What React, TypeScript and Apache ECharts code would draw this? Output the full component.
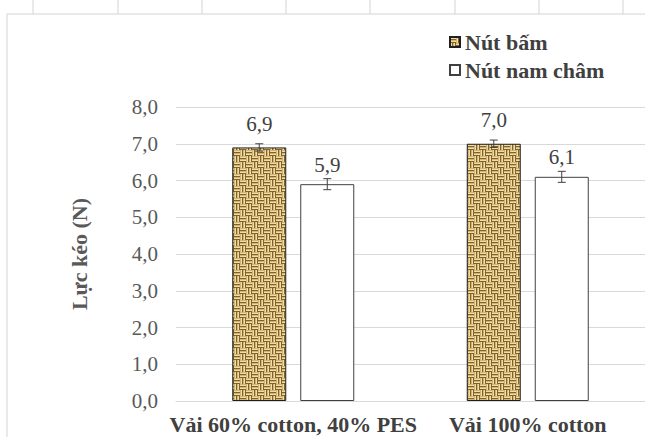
import React, { useEffect, useRef } from "react";
import * as echarts from "echarts";

const categories = ["Vải 60% cotton, 40% PES", "Vải 100% cotton"];
const seriesNames = ["Nút bấm", "Nút nam châm"];
const valuesButton = [6.9, 7.0];
const valuesMagnet = [5.9, 6.1];
const errButton = [0.1, 0.1];
const errMagnet = [0.15, 0.15];
const yTicks = { min: 0, max: 8, interval: 1 };

const FONT = "Liberation Serif";
const BAR_W = 54;
const BAR_GAP = 14;

function makeWeave(): HTMLCanvasElement {
  const c = document.createElement("canvas");
  c.width = 12;
  c.height = 12;
  const g = c.getContext("2d")!;
  g.fillStyle = "#82622c";
  g.fillRect(0, 0, 12, 12);
  const shades = ["#d2b472", "#efdca6"];
  for (let bx = 0; bx < 2; bx++) {
    for (let by = 0; by < 2; by++) {
      const x0 = bx * 6;
      const y0 = by * 6;
      const horiz = (bx + by) % 2 === 0;
      for (let t = 0; t < 2; t++) {
        for (let r = 0; r < 2; r++) {
          g.fillStyle = shades[r];
          if (horiz) g.fillRect(x0, y0 + t * 3 + r, 6, 1);
          else g.fillRect(x0 + t * 3 + r, y0, 1, 6);
        }
      }
    }
  }
  return c;
}

const fmt = (v: number) => v.toFixed(1).replace(".", ",");

function errorSeries(values: number[], errs: number[], side: number) {
  return {
    type: "custom",
    silent: true,
    z: 5,
    data: values.map((v, i) => [i, v, errs[i]]),
    renderItem: (params: any, api: any) => {
      const i = api.value(0);
      const v = api.value(1);
      const e = api.value(2);
      const off = side * (BAR_W + BAR_GAP) / 2;
      const top = api.coord([i, v + e]);
      const bot = api.coord([i, v - e]);
      const x = top[0] + off;
      const cap = 4;
      const style = { stroke: "#404040", lineWidth: 1 };
      return {
        type: "group",
        children: [
          { type: "line", shape: { x1: x, y1: top[1], x2: x, y2: bot[1] }, style },
          { type: "line", shape: { x1: x - cap, y1: top[1], x2: x + cap, y2: top[1] }, style },
          { type: "line", shape: { x1: x - cap, y1: bot[1], x2: x + cap, y2: bot[1] }, style },
        ],
      };
    },
  };
}

export default function App() {
  const ref = useRef<HTMLDivElement>(null);
  useEffect(() => {
    if (!ref.current) return;
    const chart = echarts.init(ref.current, null, { renderer: "svg" });
    const pattern = { image: makeWeave(), repeat: "repeat" } as any;
    const frameColor = "#d4d4d4";
    const colTicks = [33, 118, 202, 286, 370, 455, 539, 623];
    const graphics: any[] = [
      { type: "line", shape: { x1: 7, y1: 14, x2: 645, y2: 14 }, style: { stroke: frameColor, lineWidth: 1 } },
      { type: "line", shape: { x1: 7, y1: 14, x2: 7, y2: 437 }, style: { stroke: frameColor, lineWidth: 1 } },
      ...colTicks.map((x) => ({
        type: "line",
        shape: { x1: x, y1: 0, x2: x, y2: 14 },
        style: { stroke: frameColor, lineWidth: 1 },
      })),
    ];
    chart.setOption({
      animation: false,
      backgroundColor: "#ffffff",
      textStyle: { fontFamily: FONT },
      graphic: graphics,
      grid: { left: 176, top: 107, width: 475, height: 294, containLabel: false },
      legend: {
        orient: "vertical",
        left: 444,
        top: 26,
        itemWidth: 10,
        itemHeight: 10,
        itemGap: 6,
        icon: "rect",
        textStyle: { fontFamily: FONT, fontWeight: "bold", fontSize: 22, color: "#404040" },
        data: seriesNames,
      },
      xAxis: {
        type: "category",
        data: categories,
        axisLine: { show: true, lineStyle: { color: "#d9d9d9" } },
        axisTick: { show: false },
        axisLabel: {
          fontFamily: FONT,
          fontWeight: "bold",
          fontSize: 22,
          color: "#404040",
          margin: 12,
          interval: 0,
        },
      },
      yAxis: {
        type: "value",
        min: yTicks.min,
        max: yTicks.max,
        interval: yTicks.interval,
        name: "Lực kéo (N)",
        nameLocation: "middle",
        nameRotate: 90,
        nameGap: 86,
        nameTextStyle: { fontFamily: FONT, fontWeight: "bold", fontSize: 22, color: "#595959" },
        axisLine: { show: false },
        axisTick: { show: false },
        splitLine: { lineStyle: { color: "#d9d9d9" } },
        axisLabel: {
          fontFamily: FONT,
          fontSize: 21,
          color: "#595959",
          margin: 18,
          formatter: (v: number) => fmt(v),
        },
      },
      series: [
        {
          name: seriesNames[0],
          type: "bar",
          data: valuesButton,
          barWidth: BAR_W,
          barGap: `${(BAR_GAP / BAR_W) * 100}%`,
          itemStyle: { color: pattern, borderColor: "#1f1f1f", borderWidth: 1 },
          label: {
            show: true,
            position: "top",
            distance: 13,
            fontFamily: FONT,
            fontSize: 21,
            color: "#404040",
            formatter: (p: any) => fmt(p.value),
          },
        },
        {
          name: seriesNames[1],
          type: "bar",
          data: valuesMagnet,
          barWidth: BAR_W,
          itemStyle: { color: "#ffffff", borderColor: "#404040", borderWidth: 1 },
          label: {
            show: true,
            position: "top",
            distance: 9,
            fontFamily: FONT,
            fontSize: 21,
            color: "#404040",
            formatter: (p: any) => fmt(p.value),
          },
        },
        errorSeries(valuesButton, errButton, -1),
        errorSeries(valuesMagnet, errMagnet, 1),
      ],
    });
    return () => chart.dispose();
  }, []);
  return (
    <div
      ref={ref}
      style={{ position: "absolute", left: 0, top: 0, width: 645, height: 437 }}
    />
  );
}
